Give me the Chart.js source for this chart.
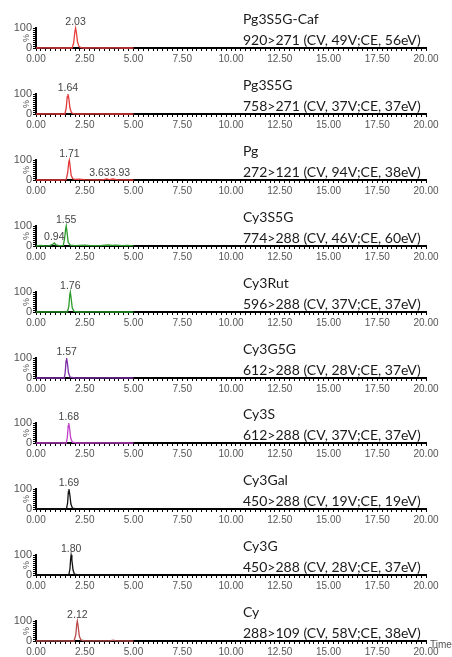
<!DOCTYPE html>
<html>
<head>
<meta charset="utf-8">
<script src="https://cdn.jsdelivr.net/npm/chart.js@4.4.1/dist/chart.umd.min.js"></script>
<style>
  html, body { margin: 0; padding: 0; background: #fff; }
  #wrap { position: relative; width: 452px; height: 657px; overflow: hidden; background: #fff; }
  #wrap canvas { position: absolute; left: 0; }
</style>
</head>
<body>
<div id="wrap"></div>
<script>
// compound names and MRM transitions, one per panel
const compounds = ['Pg3S5G-Caf', 'Pg3S5G', 'Pg', 'Cy3S5G', 'Cy3Rut', 'Cy3G5G', 'Cy3S', 'Cy3Gal', 'Cy3G', 'Cy'];
const transitions = [
  '920>271 (CV, 49V;CE, 56eV)',
  '758>271 (CV, 37V;CE, 37eV)',
  '272>121 (CV, 94V;CE, 38eV)',
  '774>288 (CV, 46V;CE, 60eV)',
  '596>288 (CV, 37V;CE, 37eV)',
  '612>288 (CV, 28V;CE, 37eV)',
  '612>288 (CV, 37V;CE, 37eV)',
  '450>288 (CV, 19V;CE, 19eV)',
  '450>288 (CV, 28V;CE, 37eV)',
  '288>109 (CV, 58V;CE, 38eV)'
];

// labelled retention times (min)
const peakLabels = [
  [2.03], [1.64], [1.71, 3.63, 3.93], [1.55, 0.94], [1.76],
  [1.57], [1.68], [1.69], [1.80], [2.12]
];

// x tick labels (min) and y labels (%)
const xTickLabels = [0, 2.5, 5, 7.5, 10, 12.5, 15, 17.5, 20];
const yTickLabels = [0, 100];

// chromatogram traces: [time (min), relative intensity (%)]
const tracePg3S5GCaf = [[0,0],[0.5,0.5],[1,0],[1.5,0.5],[1.85,0],[1.93,25],[1.99,80],[2.03,100],[2.07,78],[2.13,30],[2.2,8],[2.3,2],[2.45,0],[3,0.5],[3.5,0],[4,0.5],[4.5,0],[5,0]];
const tracePg3S5G = [[0,0],[0.6,0.5],[1.2,0],[1.48,0],[1.55,30],[1.6,85],[1.64,100],[1.68,80],[1.74,30],[1.82,6],[1.95,1],[2.2,0],[3,0.5],[4,0],[5,0]];
const tracePg = [[0,0],[0.8,1],[1.4,0],[1.55,2],[1.63,40],[1.68,90],[1.71,100],[1.75,70],[1.8,25],[1.88,6],[2,3],[2.2,4],[2.5,2],[3,1],[3.4,1],[3.63,6],[3.78,2],[3.93,5],[4.2,1],[4.6,1],[5,0]];
const traceCy3S5G = [[0,0],[0.25,3],[0.45,1],[0.7,2],[0.85,8],[0.94,15],[1.02,6],[1.2,2],[1.4,3],[1.47,40],[1.52,85],[1.55,100],[1.59,70],[1.65,20],[1.75,4],[2,2],[2.5,4],[2.8,2],[3.3,2],[3.7,5],[3.9,3],[4.1,4],[4.4,2],[4.7,3],[5,1]];
const traceCy3Rut = [[0,0],[1,0.5],[1.6,0],[1.68,25],[1.73,85],[1.76,100],[1.8,70],[1.86,20],[1.95,3],[2.2,0],[3,0.5],[4,0],[5,0]];
const traceCy3G5G = [[0,0],[1,0],[1.45,0],[1.5,30],[1.54,85],[1.57,100],[1.61,75],[1.67,25],[1.75,4],[2,0],[3.5,0.5],[5,0]];
const traceCy3S = [[0,0],[1,0.5],[1.55,0],[1.61,30],[1.65,85],[1.68,100],[1.72,75],[1.78,25],[1.86,4],[2.1,0],[3.5,0.5],[5,0]];
const traceCy3Gal = [[0,0],[1,0.5],[1.56,0],[1.62,30],[1.66,85],[1.69,100],[1.73,75],[1.79,25],[1.87,4],[2.1,0],[3.5,0.5],[5,0]];
const traceCy3G = [[0,0],[1,0.5],[1.68,0],[1.74,30],[1.78,85],[1.8,100],[1.84,75],[1.9,25],[1.97,4],[2.2,0],[3.5,0.5],[5,0]];
const traceCy = [[0,0],[1,0.5],[1.95,0],[2.04,30],[2.09,85],[2.12,100],[2.16,75],[2.22,25],[2.3,5],[2.5,1],[3,0.5],[3.8,1],[3.95,4],[4.1,1],[5,0]];
const traces = [tracePg3S5GCaf, tracePg3S5G, tracePg, traceCy3S5G, traceCy3Rut, traceCy3G5G, traceCy3S, traceCy3Gal, traceCy3G, traceCy];

// styles
const lineColors = ['#e8403f', '#e23a3a', '#e23a3a', '#2a9a2a', '#2a9a2a', '#7a2fa8', '#c040c8', '#111111', '#111111', '#b84a4a'];
const panelStep = 65.9;
const panelH = 66;

const annotate = {
  id: 'annotate',
  afterDraw(chart, args, opts) {
    const ctx = chart.ctx;
    const x = chart.scales.x, y = chart.scales.y;
    const i = opts.index;
    ctx.save();
    // title lines
    ctx.fillStyle = '#1a1a1a';
    ctx.font = '14px Lato';
    ctx.textAlign = 'left';
    ctx.textBaseline = 'alphabetic';
    ctx.fillText(compounds[i], 243, 24);
    ctx.fillText(transitions[i], 243, 44.5);

    // % label
    ctx.save();
    ctx.translate(27, 38);
    ctx.rotate(-Math.PI / 2);
    ctx.font = '9px "Liberation Sans"';
    ctx.fillStyle = '#555';
    ctx.textAlign = 'center';
    ctx.textBaseline = 'middle';
    ctx.fillText('%', 0, 0);
    ctx.restore();

    // peak labels
    ctx.font = '10.5px "Liberation Sans"';
    ctx.fillStyle = '#444';
    ctx.textBaseline = 'alphabetic';
    const trace = traces[i];
    const items = peakLabels[i].map(t => {
      const pt = trace.reduce((a, b) => Math.abs(b[0] - t) < Math.abs(a[0] - t) ? b : a);
      const text = t.toFixed(2);
      const w = ctx.measureText(text).width;
      return { text, w, cx: x.getPixelForValue(t), by: y.getPixelForValue(pt[1]) - 3 };
    }).sort((a, b) => a.cx - b.cx);
    for (let k = 1; k < items.length; k++) {
      const a = items[k - 1], b = items[k];
      if (Math.abs(a.by - b.by) < 10) {
        const overlap = (a.cx + a.w / 2) - (b.cx - b.w / 2);
        if (overlap > 0) { a.cx -= overlap / 2; b.cx += overlap / 2; }
      }
    }
    ctx.textAlign = 'center';
    items.forEach(it => ctx.fillText(it.text, it.cx, it.by));

    if (i === compounds.length - 1) {
      ctx.font = '10px "Liberation Sans"';
      ctx.fillStyle = '#555';
      ctx.textAlign = 'left';
      ctx.textBaseline = 'middle';
      ctx.fillText('Time', x.right + 4, y.bottom + 4);
    }
    ctx.restore();
  }
};

const wrap = document.getElementById('wrap');
compounds.forEach((name, i) => {
  const c = document.createElement('canvas');
  c.width = 452;
  c.height = panelH;
  c.style.top = Math.round(i * panelStep) + 'px';
  wrap.appendChild(c);

  new Chart(c.getContext('2d'), {
    type: 'scatter',
    data: {
      datasets: [{
        data: traces[i].map(p => ({ x: p[0], y: p[1] })),
        showLine: true,
        borderColor: lineColors[i],
        borderWidth: 1.3,
        pointRadius: 0,
        tension: 0,
        clip: false
      }]
    },
    options: {
      responsive: false,
      animation: false,
      devicePixelRatio: 1,
      layout: { padding: { top: 28, right: 26, left: 0, bottom: 0 } },
      plugins: {
        legend: { display: false },
        tooltip: { enabled: false },
        annotate: { index: i }
      },
      scales: {
        x: {
          type: 'linear',
          min: 0,
          max: 20,
          afterFit(s) { s.height = 18; },
          border: { color: '#000', width: 2 },
          grid: { drawOnChartArea: false, drawTicks: true, tickLength: 3, color: '#000', lineWidth: 1 },
          ticks: {
            stepSize: 0.25,
            autoSkip: false,
            maxRotation: 0,
            minRotation: 0,
            padding: 2,
            color: '#555',
            font: { family: 'Liberation Sans', size: 10 },
            callback: v => xTickLabels.includes(v) ? v.toFixed(2) : ''
          }
        },
        y: {
          min: 0,
          max: 100,
          afterFit(s) { s.width = 36; },
          border: { color: '#000', width: 2 },
          grid: { drawOnChartArea: false, drawTicks: true, tickLength: 3, color: '#000', lineWidth: 1 },
          ticks: {
            stepSize: 10,
            autoSkip: false,
            padding: 1,
            color: '#555',
            font: { family: 'Liberation Sans', size: 11 },
            callback: v => yTickLabels.includes(v) ? String(v) : ''
          }
        }
      }
    },
    plugins: [annotate]
  });
});
</script>
</body>
</html>
